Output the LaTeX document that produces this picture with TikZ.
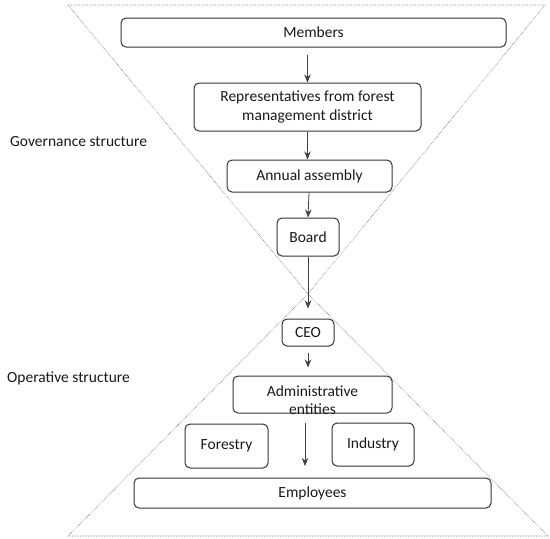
\documentclass[tikz,border=0pt]{standalone}
\usepackage{fontspec}
\setmainfont{Carlito}
\usetikzlibrary{arrows.meta}
\begin{document}
\begin{tikzpicture}[x=1pt,y=-1pt,
  box/.style={draw=black!80, line width=1pt, rounded corners=5pt, inner sep=0pt,
    font=\fontsize{15.5}{18.5}\selectfont, text=black!90, align=center},
  txt/.style={inner sep=0pt, font=\fontsize{15.5}{18.5}\selectfont, text=black!90, align=center},
  conn/.style={draw=black!75, line width=0.8pt, -{Stealth[length=8pt,width=6.5pt]}},
  tri/.style={draw=black!55, line width=0.6pt, densely dotted},
  lbl/.style={inner sep=0pt, anchor=west, font=\fontsize{15.5}{18.5}\selectfont, text=black!90}]
\path[use as bounding box] (0,0) rectangle (550,539);

% hourglass
\coordinate (tl) at (68,5);
\coordinate (tr) at (545,5);
\coordinate (apex) at (308,294);
\coordinate (bl) at (68,536);
\coordinate (br) at (548,536);
\draw[tri] (tl) -- (tr) -- (apex) -- cycle;
\draw[tri] (apex) -- (br) -- (bl) -- cycle;

% labels
\node[lbl] (gov) at (10,142) {Governance structure};
\node[lbl] (oper) at (7,378) {Operative structure};

% boxes
\node[box, minimum width=385pt, minimum height=29pt] (members) at (313.5,32.5) {Members};
\node[box, minimum width=227pt, minimum height=48pt] (reps) at (307.5,107) {Representatives from forest\\management district};
\node[box, minimum width=165pt, minimum height=32pt] (annual) at (309.5,176) {Annual assembly};
\node[box, minimum width=62pt, minimum height=38pt] (board) at (308,237) {Board};
\node[box, minimum width=52pt, minimum height=27pt] (ceo) at (308,332.5) {CEO};
\node[box, minimum width=159pt, minimum height=37pt] (admin) at (312.5,394.5) {};
\node[txt] (admintxt) at (312.5,400) {Administrative\\entities};
\node[box, minimum width=83pt, minimum height=44pt] (forestry) at (226.5,446) {Forestry};
\node[box, minimum width=82pt, minimum height=43pt] (industry) at (373,444.5) {Industry};
\node[box, minimum width=357pt, minimum height=30pt] (employees) at (312.5,493) {Employees};

% connectors
\draw[conn, shorten <=7pt] (members.south -| reps.north) -- (reps.north);
\draw[conn] (reps.south) -- (annual.north -| reps.south);
\draw[conn] (annual.south -| 309,0) -- (board.north);
\draw[conn, shorten >=10pt] (board.south) -- (ceo.north);
\draw[conn, shorten <=6pt, shorten >=8pt] (ceo.south) -- (ceo.south |- admin.north);
\coordinate (mid1) at (305,423);
\coordinate (mid2) at (305,466);
\draw[conn] (mid1) -- (mid2);
\end{tikzpicture}
\end{document}
